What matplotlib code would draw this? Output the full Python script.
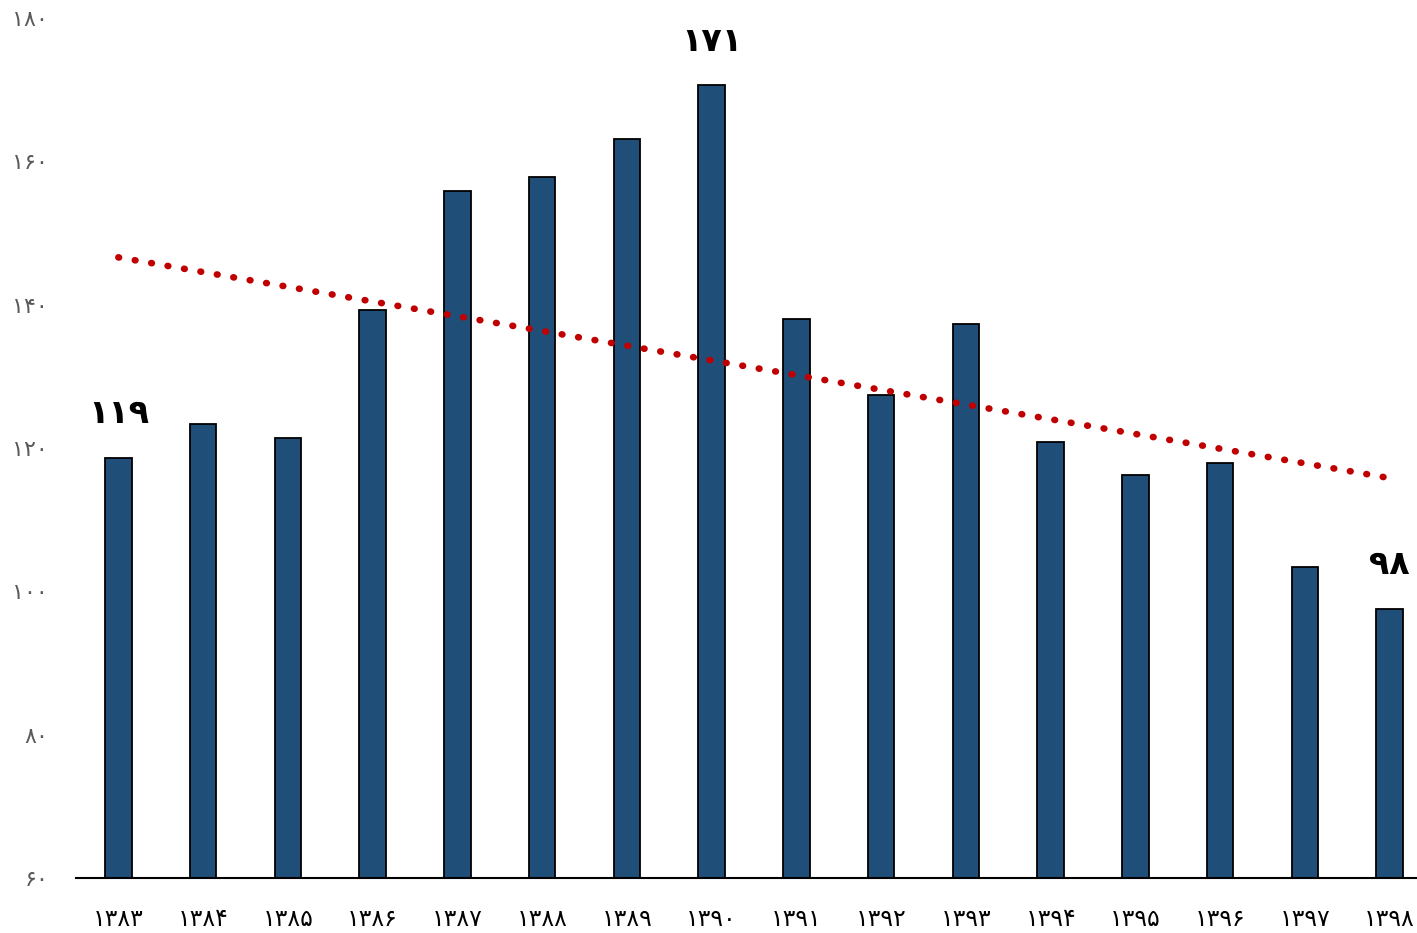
import numpy as np
import matplotlib
matplotlib.use('Agg')
import matplotlib.pyplot as plt

plt.rcParams['font.family'] = ['DejaVu Sans']

# data
years = ['۱۳۸۳', '۱۳۸۴', '۱۳۸۵', '۱۳۸۶', '۱۳۸۷', '۱۳۸۸', '۱۳۸۹', '۱۳۹۰',
         '۱۳۹۱', '۱۳۹۲', '۱۳۹۳', '۱۳۹۴', '۱۳۹۵', '۱۳۹۶', '۱۳۹۷', '۱۳۹۸']
values = [118.6, 123.4, 121.4, 139.2, 155.8, 157.8, 163.1, 170.6,
          138.0, 127.4, 137.3, 120.8, 116.2, 117.9, 103.4, 97.6]
# trend line end points (first and last year)
trend_x = [0, 15]
trend_y = [146.6, 115.8]
y_ticks = [60, 80, 100, 120, 140, 160, 180]
y_tick_labels = ['۶۰', '۸۰', '۱۰۰', '۱۲۰', '۱۴۰', '۱۶۰', '۱۸۰']
# bars that carry a value label
labelled = {0: '۱۱۹', 7: '۱۷۱', 15: '۹۸'}

fig = plt.figure(figsize=(14.17, 9.33), dpi=100)
ax = fig.add_axes([76 / 1417, 1 - 878 / 933, (1432 - 76) / 1417, (878 - 18) / 933])

x = np.arange(len(values))
ax.bar(x, values, width=0.31, color='#1F4E79', edgecolor='black', linewidth=1.3, zorder=2)

# trend line
ax.plot(trend_x, trend_y, color='#C00000', linewidth=4.8,
        linestyle=(0, (0.1, 2.4)), dash_capstyle='round', zorder=3)

for i, txt in labelled.items():
    ax.annotate(txt, (x[i], values[i]), xytext=(0, 20), textcoords='offset points',
                ha='center', va='bottom', fontsize=24, fontweight='bold', color='black')

ax.set_xlim(-0.5, len(values) - 0.5)
ax.set_ylim(60, 180)
ax.set_xticks(x)
ax.set_xticklabels(years, fontsize=17, color='black')
ax.set_yticks(y_ticks)
ax.set_yticklabels(y_tick_labels, fontsize=16, color='#595959')
ax.tick_params(axis='both', length=0)
ax.tick_params(axis='x', pad=21)
ax.tick_params(axis='y', pad=20)

for s in ['top', 'right', 'left']:
    ax.spines[s].set_visible(False)
ax.spines['bottom'].set_linewidth(1.5)
ax.spines['bottom'].set_zorder(4)

fig.savefig('out.png', dpi=100)
